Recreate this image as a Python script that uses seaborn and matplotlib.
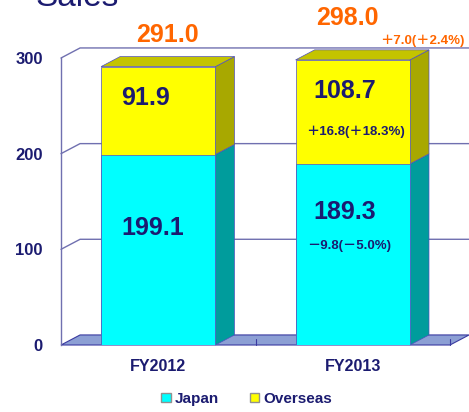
import matplotlib
matplotlib.use('Agg')
import matplotlib.pyplot as plt
import seaborn as sns
import pandas as pd
from matplotlib.patches import Polygon, Patch

# data
years = ['FY2012', 'FY2013']
japan = [199.1, 189.3]
overseas = [91.9, 108.7]
japan_change = ['', '－9.8(－5.0%)']
overseas_change = ['', '＋16.8(＋18.3%)']
total_change = ['', '＋7.0(＋2.4%)']
yticks = [0, 100, 200, 300]

df = pd.DataFrame({'year': years, 'japan': japan, 'overseas': overseas})
df['total'] = df['japan'] + df['overseas']

sns.set_style('white')
plt.rcParams['font.family'] = ['Liberation Sans', 'Noto Sans CJK JP', 'DejaVu Sans']

navy = '#1b1b70'
orange = '#ff6600'
grid_c = '#7070b0'
edge_c = '#5050c0'
cyan, cyan_side = '#00ffff', '#009c9c'
yellow, yellow_side, yellow_top = '#ffff00', '#a8a800', '#c4c400'
floor_c = '#8c9fd4'

fig = plt.figure(figsize=(4.69, 4.12), dpi=100)
ax = fig.add_axes([61 / 469, 67 / 412, 389 / 469, 287 / 412])

# depth of the fake 3d box, in data units
dx, dy = 0.098, 10.5
bw = 0.588

sns.barplot(data=df, x='year', y='total', color=yellow, width=bw, ax=ax,
            edgecolor=edge_c, linewidth=0.5, saturation=1, zorder=3)
sns.barplot(data=df, x='year', y='japan', color=cyan, width=bw, ax=ax,
            edgecolor=edge_c, linewidth=0.5, saturation=1, zorder=3)

ax.set_xlim(-0.5, 1.5)
ax.set_ylim(0, 300)

# back wall grid lines
xr = 1.5 + dx
for t in yticks[1:]:
    ax.plot([-0.5, -0.5 + dx, xr], [t, t + dy, t + dy], color=grid_c, lw=1.0,
            clip_on=False, zorder=0)

# floor
ax.add_patch(Polygon([(-0.5, 0), (1.5, 0), (1.5 + dx, dy), (-0.5 + dx, dy)],
                     closed=True, facecolor=floor_c, edgecolor='#3a3aa0', lw=0.8,
                     clip_on=False, zorder=1))
for xm in [0.5, 1.5]:
    ax.plot([xm, xm], [0, dy * 0.6], color='#3a3aa0', lw=0.8, clip_on=False, zorder=1)

# side and top faces of the bars
for i in range(len(years)):
    x1 = i + bw / 2
    x0 = i - bw / 2
    j = df['japan'][i]
    tot = df['total'][i]
    ax.add_patch(Polygon([(x1, 0), (x1 + dx, dy), (x1 + dx, j + dy), (x1, j)],
                         facecolor=cyan_side, edgecolor=edge_c, lw=0.5, zorder=2, clip_on=False))
    ax.add_patch(Polygon([(x1, j), (x1 + dx, j + dy), (x1 + dx, tot + dy), (x1, tot)],
                         facecolor=yellow_side, edgecolor=edge_c, lw=0.5, zorder=2, clip_on=False))
    ax.add_patch(Polygon([(x0, tot), (x0 + dx, tot + dy), (x1 + dx, tot + dy), (x1, tot)],
                         facecolor=yellow_top, edgecolor=edge_c, lw=0.5, zorder=2, clip_on=False))

# value labels
big = dict(fontsize=18, fontweight='bold', ha='center', va='center',
           textcoords='offset pixels', annotation_clip=False)
small = dict(fontsize=9.5, fontweight='bold', ha='center', va='center',
             textcoords='offset pixels', annotation_clip=False)

top_off = [(9, 32), (-5, 42)]
ov_off = [(-13, 13), (-8, 21)]
jp_off = [(-6, 22), (-8, 42)]
for i in range(len(years)):
    j = df['japan'][i]
    o = df['overseas'][i]
    tot = df['total'][i]
    ax.annotate(f'{tot:.1f}', (i, tot), xytext=top_off[i], color=orange, zorder=5, **big)
    ax.annotate(f'{o:.1f}', (i, j + o / 2), xytext=ov_off[i], color=navy, zorder=5, **big)
    ax.annotate(f'{j:.1f}', (i, j / 2), xytext=jp_off[i], color=navy, zorder=5, **big)
    if total_change[i]:
        ax.annotate(total_change[i], (i, tot), xytext=(70, 19), color=orange, **small)
    if overseas_change[i]:
        ax.annotate(overseas_change[i], (i, j + o / 2), xytext=(3, -20), color=navy, **small)
    if japan_change[i]:
        ax.annotate(japan_change[i], (i, j / 2), xytext=(-4, 8), color=navy, **small)

ax.set_yticks(yticks)
ax.set_yticklabels([str(t) for t in yticks], fontsize=12, fontweight='bold', color=navy)
ax.tick_params(axis='y', length=0, pad=13)
ax.set_xticks(range(len(years)))
ax.set_xticklabels(years, fontsize=11.5, fontweight='bold', color=navy)
ax.tick_params(axis='x', length=0, pad=10)
ax.set_xlabel('')
ax.set_ylabel('')
for s in ['top', 'right', 'bottom']:
    ax.spines[s].set_visible(False)
ax.spines['left'].set_color(grid_c)
ax.spines['left'].set_linewidth(1.0)

fig.text(35 / 469, 1 - 6 / 412, 'Sales', fontsize=24, color=navy, va='baseline', ha='left')

handles = [Patch(facecolor=cyan, edgecolor='#909090', label='Japan'),
           Patch(facecolor=yellow, edgecolor='#909090', label='Overseas')]
leg = fig.legend(handles=handles, loc='center', bbox_to_anchor=(247 / 469, 13 / 412),
                 ncol=2, frameon=False, handlelength=0.6, handleheight=0.6,
                 handletextpad=0.3, columnspacing=2.0,
                 prop={'weight': 'bold', 'size': 11})
for t in leg.get_texts():
    t.set_color(navy)

fig.savefig('out.png', dpi=100)
